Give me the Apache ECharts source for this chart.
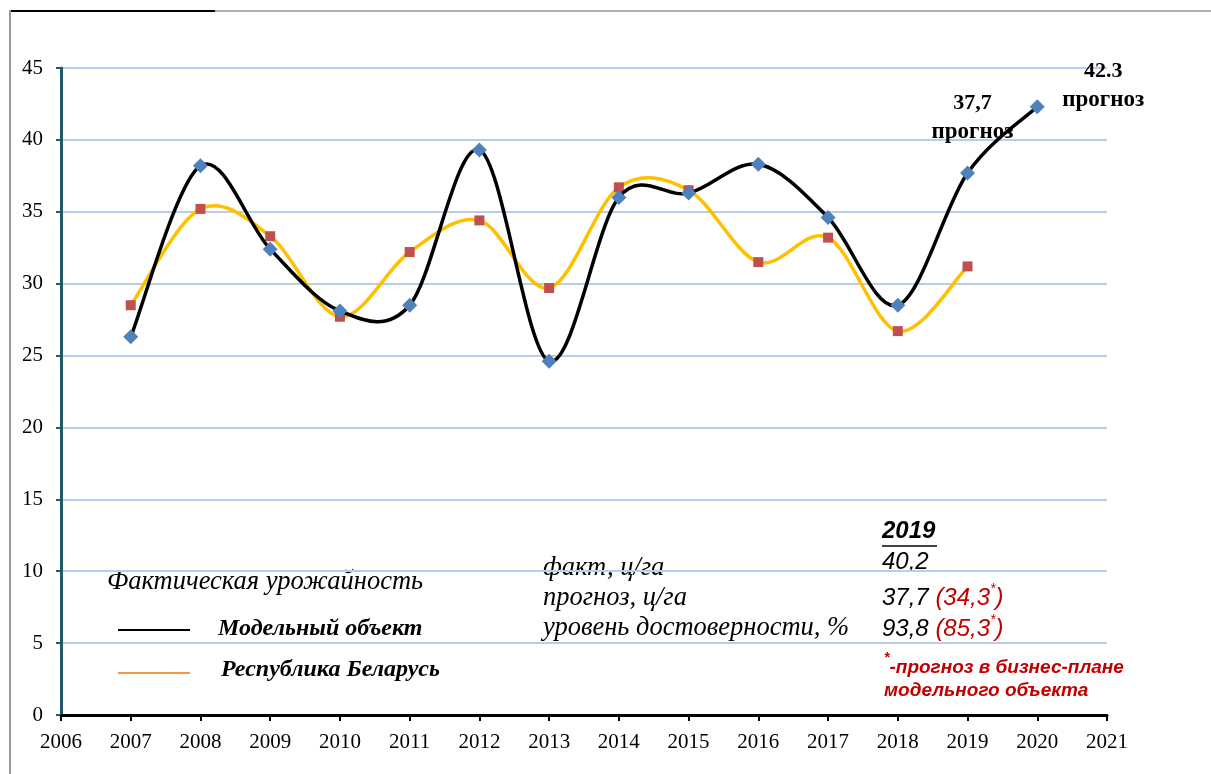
<!DOCTYPE html>
<html>
<head>
<meta charset="utf-8">
<script src="https://cdn.jsdelivr.net/npm/echarts@6/dist/echarts.min.js"></script>
<style>
html,body{margin:0;padding:0;background:#fff;}
#chart{width:1211px;height:774px;}
</style>
</head>
<body>
<div id="chart"></div>
<script>
// ---- data ----
var years = [2007, 2008, 2009, 2010, 2011, 2012, 2013, 2014, 2015, 2016, 2017, 2018, 2019, 2020];
var modelValues = [26.3, 38.2, 32.4, 28.1, 28.5, 39.3, 24.6, 36.0, 36.3, 38.3, 34.6, 28.5, 37.7, 42.3];
var belarusValues = [28.5, 35.2, 33.3, 27.7, 32.2, 34.4, 29.7, 36.7, 36.5, 31.5, 33.2, 26.7, 31.2];
var seriesNames = ['Модельный объект', 'Республика Беларусь'];
var xMin = 2006, xMax = 2021, yMin = 0, yMax = 45, yStep = 5;

var serif = '"Liberation Serif","Times New Roman",serif';
var sans = '"Liberation Sans",Arial,sans-serif';
var red = '#C00000';

function pairs(vals) { return vals.map(function (v, i) { return [years[i], v]; }); }

// Smooth curve (Catmull-Rom style, like spreadsheet smoothed lines), one segment per item
function curveRenderer(vals, color) {
  return function (params, api) {
    var i = params.dataIndex, n = vals.length;
    if (i >= n - 1) return null;
    function P(k) { k = Math.max(0, Math.min(n - 1, k)); return api.coord([years[k], vals[k]]); }
    var p0 = P(i - 1), p1 = P(i), p2 = P(i + 1), p3 = P(i + 2), t = 1 / 6;
    return {
      type: 'bezierCurve', silent: true,
      shape: {
        x1: p1[0], y1: p1[1], x2: p2[0], y2: p2[1],
        cpx1: p1[0] + (p2[0] - p0[0]) * t, cpy1: p1[1] + (p2[1] - p0[1]) * t,
        cpx2: p2[0] - (p3[0] - p1[0]) * t, cpy2: p2[1] - (p3[1] - p1[1]) * t
      },
      style: { stroke: color, lineWidth: 3.5, fill: 'none', lineCap: 'round' }
    };
  };
}

var modelMarkers = years.map(function (y, i) {
  var item = { value: [y, modelValues[i]] };
  if (y === 2019) {
    item.label = { show: true, position: 'inside', offset: [5, -55],
      formatter: '{a|37,7}\n{b|прогноз}' };
  }
  if (y === 2020) {
    item.label = { show: true, position: 'inside', offset: [66, -21],
      formatter: '{a|42.3}\n{b|прогноз}' };
  }
  return item;
});

var labelRich = {
  a: { fontFamily: serif, fontWeight: 'bold', fontSize: 22, color: '#000', lineHeight: 29, align: 'center' },
  b: { fontFamily: serif, fontWeight: 'bold', fontSize: 23, color: '#000', lineHeight: 29, align: 'center' }
};

function txt(x, y, text, font, fill) {
  return { type: 'text', x: x, y: y, style: { text: text, font: font, fill: fill || '#000', verticalAlign: 'middle' } };
}
function richTxt(x, y, text, size, bigLH) {
  return { type: 'text', x: x, y: y, style: {
    text: text, verticalAlign: 'middle',
    rich: {
      k: { font: 'italic ' + size + 'px ' + sans, fill: '#000', lineHeight: bigLH, verticalAlign: 'bottom' },
      r: { font: 'italic ' + size + 'px ' + sans, fill: red, lineHeight: bigLH, verticalAlign: 'bottom' },
      s: { font: 'italic 14px ' + sans, fill: red, lineHeight: bigLH, verticalAlign: 'top' }
    } } };
}

var chart = echarts.init(document.getElementById('chart'));
chart.setOption({
  animation: false,
  backgroundColor: '#fff',
  grid: { left: 61, right: 104, top: 68, bottom: 59 },
  xAxis: {
    type: 'value', min: xMin, max: xMax, interval: 1,
    axisLine: { show: true, lineStyle: { color: '#000', width: 3 } },
    axisTick: { show: true, length: 6, lineStyle: { color: '#000', width: 2 } },
    axisLabel: { margin: 17, fontFamily: serif, fontSize: 21, color: '#000',
      formatter: function (v) { return String(v); } },
    splitLine: { show: false }
  },
  yAxis: {
    type: 'value', min: yMin, max: yMax, interval: yStep,
    axisLine: { show: true, lineStyle: { color: '#215968', width: 3 } },
    axisTick: { show: true, length: 5, lineStyle: { color: '#215968', width: 2 } },
    axisLabel: { margin: 18, fontFamily: serif, fontSize: 21, color: '#000' },
    splitLine: { show: true, lineStyle: { color: '#b9cde8', width: 2 } }
  },
  series: [
    {
      name: seriesNames[1], type: 'custom', data: pairs(belarusValues),
      encode: { x: 0, y: 1 }, renderItem: curveRenderer(belarusValues, '#FFC000'), z: 2
    },
    {
      name: seriesNames[1], type: 'scatter', data: pairs(belarusValues),
      symbol: 'rect', symbolSize: 10, itemStyle: { color: '#C0504D', opacity: 1 }, z: 3
    },
    {
      name: seriesNames[0], type: 'custom', data: pairs(modelValues),
      encode: { x: 0, y: 1 }, renderItem: curveRenderer(modelValues, '#000'), z: 4
    },
    {
      name: seriesNames[0], type: 'scatter', data: modelMarkers,
      symbol: 'diamond', symbolSize: 15, itemStyle: { color: '#4F81BD', opacity: 1 },
      label: { show: false, color: '#000', opacity: 1, rich: labelRich }, clip: false, z: 5
    }
  ],
  graphic: [
    // frame
    { type: 'line', shape: { x1: 10, y1: 11, x2: 215, y2: 11 }, style: { stroke: '#000', lineWidth: 2 } },
    { type: 'line', shape: { x1: 215, y1: 11, x2: 1211, y2: 11 }, style: { stroke: '#999', lineWidth: 1.5 } },
    { type: 'line', shape: { x1: 10, y1: 10, x2: 10, y2: 774 }, style: { stroke: '#999', lineWidth: 2 } },
    // legend
    txt(107, 582, 'Фактическая урожайность', 'italic 26.5px ' + serif),
    { type: 'line', shape: { x1: 118, y1: 630, x2: 190, y2: 630 }, style: { stroke: '#000', lineWidth: 2 } },
    { type: 'line', shape: { x1: 118, y1: 673, x2: 190, y2: 673 }, style: { stroke: '#F79646', lineWidth: 2 } },
    txt(218, 629, seriesNames[0], 'italic bold 24px ' + serif),
    txt(221, 670, seriesNames[1], 'italic bold 24px ' + serif),
    // stats block
    txt(543, 568, 'факт, ц/га', 'italic 26.5px ' + serif),
    txt(543, 598, 'прогноз, ц/га', 'italic 26.5px ' + serif),
    txt(543, 628, 'уровень достоверности, %', 'italic 26.5px ' + serif),
    txt(882, 531, '2019', 'italic bold 24px ' + sans),
    { type: 'line', shape: { x1: 882, y1: 546, x2: 937, y2: 546 }, style: { stroke: '#000', lineWidth: 1.5 } },
    txt(882, 562, '40,2', 'italic 24px ' + sans),
    richTxt(882, 596, '{k|37,7 }{r|(34,3}{s|*}{r|)}', 24, 28),
    richTxt(882, 627, '{k|93,8 }{r|(85,3}{s|*}{r|)}', 24, 28),
    { type: 'text', x: 884, y: 664, style: {
      text: '{s|*}{r|-прогноз в бизнес-плане}', verticalAlign: 'middle',
      rich: {
        r: { font: 'italic bold 19px ' + sans, fill: red, lineHeight: 26, verticalAlign: 'bottom' },
        s: { font: 'italic bold 14px ' + sans, fill: red, lineHeight: 26, verticalAlign: 'top' }
      } } },
    txt(884, 691, 'модельного объекта', 'italic bold 19px ' + sans, red)
  ]
});
</script>
</body>
</html>
